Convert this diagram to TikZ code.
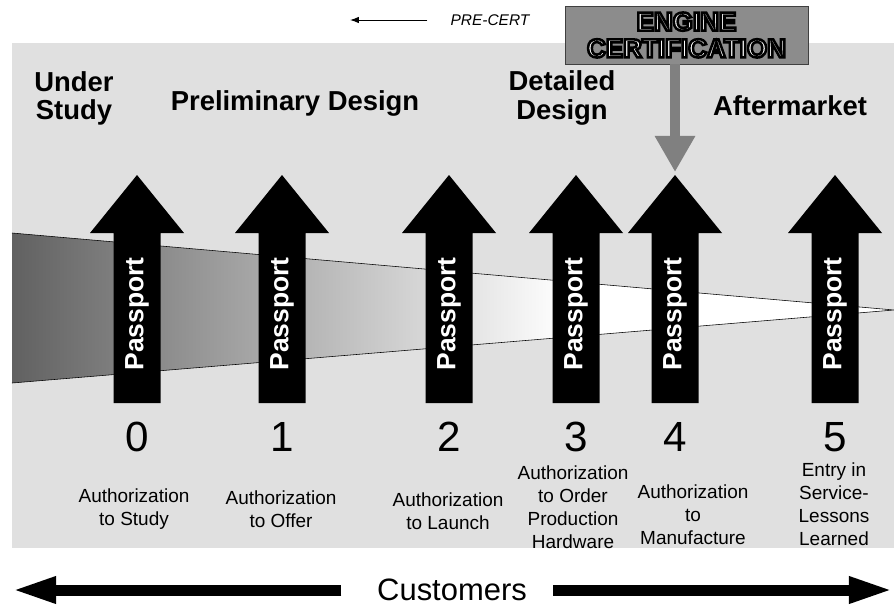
\documentclass[tikz,border=0pt]{standalone}
\usepackage{fontspec}
\setmainfont{Liberation Sans}
\usetikzlibrary{arrows.meta}
\newcommand\outlined[1]{\special{pdf:literal direct 2 Tr 1.8 w 0 0 0 RG}#1\special{pdf:literal direct 0 Tr}}

\begin{document}
\begin{tikzpicture}[>=latex, x=0.025cm, y=-0.025cm,
	phase/.style={font=\bfseries\fontsize{19.5}{20}\selectfont, align=center, inner sep=0pt},
	pass/.style={text=white, font=\bfseries\fontsize{18.8}{20}\selectfont, rotate=90, inner sep=0pt},
	gate/.style={font=\fontsize{30}{30}\selectfont, inner sep=0pt},
	auth/.style={font=\fontsize{13.5}{16.4}\selectfont, align=center, inner sep=0pt},
	fat/.style={line width=0.275cm, -{Triangle[width=0.6cm,length=1.125cm]}}]
	\useasboundingbox (0,0) rectangle (894,607);
	\fill[black!12] (12,43) rectangle (894,548);
	
	% funnel
	\fill[white] (12,233) -- (894,310) -- (12,383) -- cycle;
	\begin{scope}
		\clip (12,233) -- (894,310) -- (12,383) -- cycle;
		\shade[left color=black!62, right color=white] (12,230) rectangle (565,390);
	\end{scope}
	\draw (12,233) -- (894,310) -- (12,383);
	
	\foreach \x/\n in {137/0,282/1,449/2,576/3,675/4,835/5}{
		\fill (\x-23.5,403) -- (\x-23.5,233) -- (\x-47,233) -- (\x,175)
		-- (\x+47,233) -- (\x+23.5,233) -- (\x+23.5,403) -- cycle;
		\node[pass] (pp\n) at (\x,314) {Passport};
		\node[gate] (g\n) at (\x,437) {\n};
	}
	\coordinate (tip4) at (675,175);
	
	\node[auth] (a0) at (134,509) {Authorization\\to Study};
	\node[auth] (a1) at (281,509) {Authorization\\to Offer};
	\node[auth] (a2) at (448,511) {Authorization\\to Launch};
	\node[auth] (a3) at (573,507) {Authorization\\to Order\\Production\\Hardware};
	\node[auth] (a4) at (693,515) {Authorization\\to\\Manufacture};
	\node[auth] (a5) at (834,504) {Entry in\\Service-\\Lessons\\Learned};
	
	\node[phase] (us) at (74,98)   {Under\\Study};
	\node[phase] (pd) at (295,103) {Preliminary Design};
	\node[phase] (dd) at (562,98)  {Detailed\\Design};
	\node[phase] (am) at (790,106) {Aftermarket};
	
	\node[draw=black!75, fill=black!45, text=white, minimum width=6.075cm, minimum height=1.45cm,
	font=\bfseries\fontsize{18.5}{19}\selectfont, align=center] (cert) at (686.5,35)
	{\outlined{ENGINE}\\\outlined{CERTIFICATION}};
	\draw[black!50, line width=0.25cm, -{Triangle[width=0.95cm,length=0.9cm]}, shorten >=0.075cm]
	(cert.south -| tip4) -- (tip4);
	
	\node[font=\itshape\fontsize{11}{11}\selectfont, inner sep=0pt] (pre) at (490,20) {PRE-CERT};
	\coordinate (prel) at (350,20);
	\draw[-{Latex[length=0.22cm,width=0.16cm]}, line width=0.7pt, shorten <=0.575cm] (pre.west) -- (prel);
	
	\node[font=\fontsize{22}{22}\selectfont, inner sep=0pt] (cust) at (452,590) {Customers};
	\coordinate (cl) at (11,590);
	\coordinate (cr) at (894,590);
	\draw[fat, shorten <=0.89cm] (cust.west) -- (cl);
	\draw[fat, shorten <=0.66cm] (cust.east) -- (cr);
\end{tikzpicture}
\end{document}
